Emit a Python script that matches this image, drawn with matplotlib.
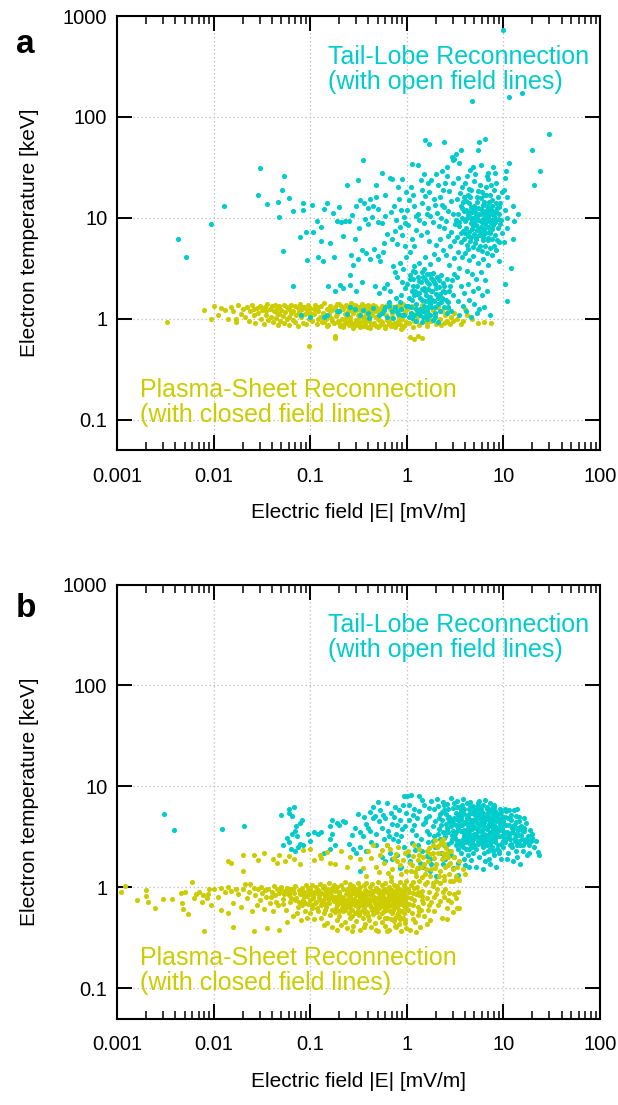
import matplotlib
matplotlib.use("Agg")
import matplotlib.pyplot as plt
from matplotlib.ticker import FixedLocator, NullLocator, FixedFormatter, LogLocator, NullFormatter

plt.rcParams['font.family'] = ['Liberation Sans', 'DejaVu Sans']

CYAN = '#00cccc'
YELLOW = '#cccc00'

x_ticks = [0.001, 0.01, 0.1, 1, 10, 100]
x_tick_labels = ['0.001', '0.01', '0.1', '1', '10', '100']
y_ticks = [0.1, 1, 10, 100, 1000]
y_tick_labels = ['0.1', '1', '10', '100', '1000']

# ---------------- panel a : tail-lobe (cyan) ----------------
tail_a = [
    (0.0043, 6.2), (0.0052, 4.1), (0.0094, 8.7), (0.0127, 13.2), (0.030, 31), (0.029, 17), (0.036, 13.7),
    (0.046, 14.4), (0.054, 26), (0.051, 19), (0.047, 10.3), (0.052, 4.7), (0.061, 15.8), (0.067, 11.7),
    (0.078, 6.5), (0.085, 13.9), (0.085, 12.0), (0.090, 7.2), (0.093, 3.8), (0.067, 2.1),
    (0.108, 7.3), (0.129, 5.9), (0.12, 4.1), (0.135, 3.7), (0.16, 5.6), (0.176, 4.1), (0.153, 2.1),
    (0.18, 1.87), (0.203, 2.15), (0.22, 2.0), (0.26, 2.15), (0.26, 2.7), (0.265, 4.3), (0.117, 9.4),
    (0.128, 8.1), (0.148, 14), (0.173, 11.1), (0.19, 9.3), (0.21, 9.0), (0.23, 9.4), (0.25, 9.2),
    (0.24, 21), (0.31, 23.5), (0.105, 13.5), (0.14, 12.3), (0.2, 12.8), (0.27, 10.6), (0.3, 13),
    (0.33, 15), (0.29, 6.2), (0.32, 7.9), (0.22, 6.6), (0.28, 3.4), (0.31, 3.9), (0.34, 4.8), (0.3, 1.9),
    (0.34, 2.3), (0.14, 1.05), (0.19, 1.2), (0.24, 1.12), (0.29, 1.25), (0.33, 1.08), (0.08, 1.1),
    (0.1, 1.05),
    (0.355, 37.5), (0.475, 21), (0.67, 25), (0.7, 24), (0.36, 14), (0.4, 12.5), (0.42, 15.5), (0.45, 13),
    (0.48, 16), (0.5, 12.2), (0.37, 9.8), (0.4, 8.6), (0.44, 10.3), (0.5, 9.1), (0.55, 8.8), (0.6, 10.4),
    (0.38, 4.5), (0.42, 3.9), (0.46, 4.9), (0.5, 4.2), (0.53, 3.7), (0.57, 4.6), (0.47, 2.1), (0.52, 1.8),
    (0.58, 2.0), (0.62, 2.2), (0.67, 1.9), (0.75, 2.9), (0.72, 3.3), (0.8, 2.6), (0.85, 3.6), (0.9, 2.3),
    (0.95, 2.0), (0.88, 1.7), (0.78, 1.6), (0.65, 1.45), (0.7, 6.2), (0.75, 7.4), (0.8, 5.5), (0.85, 8.1),
    (0.9, 6.8), (0.95, 5.2), (0.62, 6.9), (0.58, 5.6), (0.68, 11.5), (0.73, 13.2), (0.78, 9.6), (0.83, 15.5),
    (0.88, 12), (0.93, 10.1), (0.97, 18), (0.9, 24.5), (0.82, 20), (0.6, 17), (0.55, 28), (0.95, 8.8),
    (0.99, 4.1), (0.92, 3.1), (0.4, 1.15), (0.45, 1.28), (0.52, 1.1), (0.58, 1.22), (0.63, 1.05),
    (0.7, 1.18), (0.76, 1.3), (0.82, 1.12), (0.88, 1.25), (0.94, 1.08), (0.98, 1.35), (0.86, 1.45),
    (0.72, 1.02), (0.66, 1.35), (0.15, 1.08), (0.2, 1.18), (0.26, 1.3), (0.35, 1.22), (0.41, 1.02),
    (0.55, 1.15), (0.6, 1.32), (0.8, 1.2), (0.9, 1.1),
    (1.56, 59), (1.69, 54), (2.45, 56), (1.13, 34), (1.31, 33), (2.3, 29), (2.6, 32), (1.5, 27), (1.8, 23.5),
    (1.4, 23.5), (2.2, 16), (2.35, 19), (2.5, 22), (2.6, 26), (2.1, 21), (2.95, 40), (3.1, 38), (3.2, 43),
    (3.0, 37), (1.0, 12), (1.05, 15), (1.1, 20), (1.15, 17), (1.2, 13), (1.3, 11), (1.45, 14), (1.55, 16.5),
    (1.65, 12.5), (1.7, 18), (1.35, 9.5), (1.25, 7.5), (1.12, 6.2), (1.02, 8.4), (1.08, 4.6), (1.2, 5.3),
    (1.4, 6.7), (1.5, 8.8), (1.6, 7.2), (1.75, 10.5), (1.85, 9.1), (1.95, 13.5), (2.05, 11.2), (2.15, 8.3),
    (2.25, 10), (2.4, 12.8), (2.55, 9.4), (2.7, 11.6), (2.85, 14.6), (3.0, 10.8), (3.15, 8.7), (2.9, 7.3),
    (2.65, 6.6), (2.45, 7.9), (2.2, 6.1), (2.0, 5.4), (1.9, 4.4), (1.7, 5.9), (1.55, 4.1), (1.35, 3.6),
    (1.18, 3.3), (1.75, 3.5), (2.1, 3.9), (2.35, 4.8), (2.55, 4.3), (2.8, 5.2), (3.05, 5.9), (3.1, 4.0),
    (2.75, 3.4), (1.6, 11), (1.9, 15.5), (2.3, 13.5), (2.75, 18.5), (3.0, 22), (1.25, 10.5), (1.45, 19),
    (1.65, 22), (2.0, 27),
    (1.0, 2.2), (1.05, 1.6), (1.08, 2.7), (1.1, 1.3), (1.12, 1.9), (1.15, 2.5), (1.18, 1.1), (1.2, 1.7),
    (1.22, 2.9), (1.25, 1.4), (1.28, 2.1), (1.3, 1.15), (1.32, 2.6), (1.35, 1.8), (1.38, 1.25), (1.4, 2.3),
    (1.42, 1.55), (1.45, 2.9), (1.48, 1.05), (1.5, 2.0), (1.52, 1.35), (1.55, 2.45), (1.58, 1.7), (1.6, 1.2),
    (1.62, 2.75), (1.65, 1.95), (1.68, 1.45), (1.7, 2.2), (1.72, 1.1), (1.75, 1.65), (1.78, 2.55), (1.8, 1.3),
    (1.83, 1.9), (1.86, 2.85), (1.9, 1.5), (1.93, 2.3), (1.96, 1.15), (2.0, 1.75), (2.05, 2.6), (2.1, 1.4),
    (2.15, 2.05), (2.2, 1.2), (2.25, 2.7), (2.3, 1.6), (2.38, 2.25), (2.45, 1.3), (2.5, 1.85), (2.6, 2.5),
    (2.7, 1.45), (2.8, 2.1), (2.9, 1.2), (3.0, 1.7), (3.1, 2.8), (1.14, 1.02), (1.26, 0.95), (1.44, 0.92),
    (1.62, 1.0), (1.85, 0.97), (2.12, 0.93), (1.05, 1.05), (1.36, 1.6), (1.56, 1.9), (1.74, 1.4), (1.98, 2.2),
    (2.35, 1.9), (2.65, 1.3), (1.15, 3.0), (1.5, 3.1),
    (1.03, 1.35), (1.07, 2.45), (1.13, 1.55), (1.17, 2.1), (1.24, 1.25), (1.29, 1.75), (1.33, 2.35),
    (1.37, 1.1), (1.43, 1.95), (1.47, 2.6), (1.53, 1.5), (1.57, 1.1), (1.63, 2.3), (1.67, 1.3), (1.73, 2.8),
    (1.77, 1.9), (1.82, 1.55), (1.88, 2.4), (1.94, 1.3), (2.02, 2.0), (2.08, 1.6), (2.18, 2.4), (2.28, 1.45),
    (2.4, 2.1), (2.55, 1.55), (2.75, 1.9), (2.95, 2.4), (1.1, 1.15), (1.21, 1.9), (1.46, 1.2), (1.69, 1.6),
    (1.97, 1.05), (2.22, 1.75), (2.6, 1.15),
    (5.6, 57), (6.4, 61), (5.4, 47), (3.67, 47), (4.5, 30), (4.8, 32), (7.8, 32), (6.9, 28), (3.5, 35),
    (4.2, 26), (3.4, 25), (3.7, 20), (4.0, 22), (4.3, 17), (4.6, 19), (5.0, 23), (5.3, 16), (5.7, 21),
    (6.0, 18), (6.3, 14.5), (6.6, 20), (7.0, 24), (7.3, 17), (7.6, 15), (8.0, 19), (8.4, 22), (8.8, 16),
    (9.2, 14), (9.6, 18), (3.3, 15.5), (3.6, 13), (3.9, 16), (4.1, 12), (4.4, 14), (4.7, 11.5), (5.0, 13),
    (5.2, 10.5), (5.5, 12.5), (5.8, 11), (6.1, 13.5), (6.4, 10.2), (6.8, 12), (7.2, 11), (7.6, 13),
    (8.0, 10.5), (8.5, 12.5), (9.0, 11), (9.5, 9.5), (3.4, 11), (3.7, 10), (4.0, 9.2), (4.3, 10.8),
    (4.6, 8.8), (4.9, 10), (5.2, 8.5), (5.5, 9.6), (5.8, 8.2), (6.1, 9.8), (6.4, 8.6), (6.7, 9.3), (7.0, 8.1),
    (7.4, 9.6), (7.8, 8.4), (8.2, 9.1), (8.7, 7.9), (9.3, 8.7), (3.5, 8.3), (3.8, 7.4), (4.1, 8.0),
    (4.4, 7.2), (4.7, 7.7), (5.0, 6.9), (5.3, 7.5), (5.6, 6.7), (5.9, 7.3), (6.2, 6.5), (6.5, 7.1),
    (6.9, 6.3), (7.3, 7.0), (7.7, 6.1), (8.1, 6.8), (8.6, 6.0), (9.1, 5.7), (3.3, 6.5), (3.6, 5.8),
    (3.9, 6.2), (4.2, 5.4), (4.5, 5.9), (4.8, 5.1), (5.1, 5.6), (5.4, 4.9), (5.7, 5.3), (6.0, 4.7),
    (6.4, 5.2), (6.8, 4.5), (7.2, 5.0), (7.7, 4.3), (8.3, 4.8), (8.9, 3.7), (3.4, 4.6), (3.7, 4.1),
    (4.0, 4.5), (4.4, 3.8), (4.9, 4.2), (5.5, 3.6), (6.2, 3.9), (7.0, 3.4), (3.5, 3.2), (4.2, 3.0),
    (4.7, 2.8), (5.2, 2.5), (5.8, 2.9), (6.5, 2.4), (3.3, 2.6), (3.6, 2.1), (3.9, 1.8), (4.3, 2.2),
    (4.8, 1.9), (5.4, 2.0), (6.0, 1.7), (6.8, 1.9), (3.4, 1.5), (3.8, 1.35), (4.4, 1.55), (5.0, 1.4),
    (5.6, 1.25), (3.5, 1.1), (4.1, 1.2), (4.6, 1.05), (5.3, 1.15), (6.3, 1.3), (7.2, 1.1),
    (4.5, 10.3), (5.0, 9.4), (5.5, 10.9), (6.0, 9.0), (6.5, 11.2), (4.8, 8.3), (5.3, 9.9), (5.8, 9.3),
    (6.3, 7.8), (4.2, 9.9), (3.9, 11.8), (7.0, 10.2), (7.5, 8.8), (4.6, 12.8), (5.3, 14.3), (5.9, 15.8),
    (6.6, 16.8), (3.8, 14.2), (4.4, 19.5), (5.1, 27), (5.9, 33), (6.7, 26), (7.4, 21), (8.1, 28),
    (3.45, 9.0), (3.75, 12.4), (4.05, 7.0), (4.35, 11.6), (4.65, 6.4), (4.95, 12.0), (5.25, 6.2),
    (5.55, 8.0), (5.85, 12.2), (6.15, 7.0), (6.45, 9.0), (6.75, 13.0), (7.05, 7.2), (7.35, 12.2),
    (7.65, 7.8), (7.95, 9.9), (8.35, 11.4), (8.75, 9.8), (9.1, 12.8), (3.6, 7.0), (4.25, 6.6), (4.75, 9.6),
    (5.15, 11.2), (5.65, 7.8), (6.2, 11.6), (6.9, 10.8), (7.8, 11.6), (4.5, 16), (5.4, 18.5), (6.3, 17),
    (7.1, 14.5), (8.3, 14), (3.55, 17.5), (4.1, 14.8), (3.25, 9.6), (9.6, 7.1), (8.0, 5.2), (7.0, 6.0),
    (6.1, 6.0), (5.2, 6.3), (4.3, 4.9),
    (10.0, 730), (11.5, 158), (15.6, 171), (4.7, 144), (29.5, 68), (19.7, 47), (24, 29), (20.7, 21),
    (11.5, 35), (10.6, 29), (10.4, 25), (10.1, 19), (11, 16), (12.5, 13), (14, 11), (13, 9.2), (11, 10),
    (12.5, 6.1), (10.2, 5.7), (10.8, 8), (10.3, 12), (12, 3.2), (10.4, 2.2), (11, 1.5),
]

# ---------------- panel a : plasma sheet (yellow) ----------------
sheet_a = [
    (0.0033, 0.92), (0.0079, 1.23), (0.0095, 1.0), (0.010, 1.35), (0.011, 1.1), (0.012, 1.28), (0.013, 1.22),
    (0.014, 0.99), (0.015, 1.3), (0.016, 1.18), (0.017, 1.0), (0.017, 0.93), (0.018, 1.36), (0.019, 1.12),
    (0.02, 1.25), (0.021, 1.05), (0.022, 1.32), (0.023, 0.95), (0.024, 1.2), (0.025, 1.38), (0.026, 1.08),
    (0.027, 0.9), (0.028, 1.27), (0.029, 1.15), (0.03, 1.35), (0.031, 1.0), (0.032, 1.22), (0.033, 0.88),
    (0.034, 1.3), (0.035, 1.1), (0.036, 1.4), (0.037, 0.97), (0.038, 1.25), (0.039, 1.05), (0.04, 1.33),
    (0.041, 0.92), (0.042, 1.18), (0.043, 1.37), (0.044, 1.02), (0.045, 1.28), (0.046, 0.87), (0.047, 1.12),
    (0.048, 1.35), (0.049, 0.96), (0.05, 1.23), (0.052, 1.07), (0.053, 1.38), (0.054, 0.9), (0.055, 1.16),
    (0.057, 1.3), (0.058, 1.0), (0.06, 1.25), (0.061, 0.86), (0.063, 1.13), (0.064, 1.36), (0.066, 0.98),
    (0.067, 1.2), (0.069, 1.33), (0.07, 0.93), (0.072, 1.09), (0.074, 1.27), (0.075, 0.85), (0.077, 1.17),
    (0.079, 1.39), (0.081, 1.03), (0.083, 1.24), (0.085, 0.91), (0.087, 1.31), (0.089, 1.11), (0.091, 0.88),
    (0.093, 1.21), (0.095, 1.36), (0.097, 1.0), (0.099, 1.15),
    (0.10, 1.28), (0.105, 0.95), (0.11, 1.12), (0.112, 1.38), (0.118, 0.88), (0.12, 1.2), (0.125, 1.05),
    (0.13, 1.33), (0.133, 0.92), (0.137, 1.15), (0.14, 1.42), (0.145, 0.99), (0.15, 1.26), (0.153, 0.86),
    (0.158, 1.1), (0.16, 1.35), (0.165, 1.02), (0.17, 1.22), (0.175, 0.9), (0.18, 1.3), (0.185, 1.07),
    (0.19, 1.4), (0.195, 0.95), (0.2, 1.18), (0.205, 0.85), (0.21, 1.34), (0.215, 1.0), (0.22, 1.25),
    (0.225, 0.88), (0.23, 1.12), (0.235, 1.38), (0.24, 0.93), (0.245, 1.2), (0.25, 0.86), (0.255, 1.3),
    (0.26, 1.05), (0.265, 1.43), (0.27, 0.9), (0.275, 1.15), (0.28, 1.27), (0.285, 0.84), (0.29, 1.36),
    (0.295, 0.97), (0.3, 1.22), (0.31, 0.87), (0.315, 1.1), (0.32, 1.32), (0.33, 0.92), (0.335, 1.18),
    (0.34, 1.4), (0.35, 0.85), (0.355, 1.03), (0.36, 1.28), (0.37, 0.89), (0.375, 1.14), (0.38, 1.35),
    (0.39, 0.83), (0.4, 1.24), (0.41, 0.96), (0.42, 1.31), (0.43, 0.86), (0.44, 1.08), (0.45, 1.37),
    (0.46, 0.9), (0.47, 1.2), (0.48, 0.84), (0.49, 1.29), (0.5, 1.0), (0.52, 1.16), (0.53, 0.87),
    (0.55, 1.33), (0.56, 0.93), (0.58, 1.22), (0.6, 0.85), (0.61, 1.1), (0.63, 1.38), (0.65, 0.89),
    (0.67, 1.26), (0.69, 0.84), (0.7, 1.05), (0.72, 1.3), (0.74, 0.91), (0.76, 1.18), (0.78, 0.86),
    (0.8, 1.35), (0.82, 0.95), (0.84, 1.12), (0.86, 0.88), (0.88, 1.27), (0.9, 1.0), (0.92, 1.4),
    (0.94, 0.85), (0.96, 1.2), (0.98, 0.92), (0.15, 0.84), (0.22, 0.82), (0.28, 0.8), (0.33, 0.82),
    (0.42, 0.81), (0.5, 0.83), (0.6, 0.8), (0.75, 0.82), (0.9, 0.8), (0.2, 0.9), (0.3, 0.9), (0.45, 0.88),
    (0.55, 0.9), (0.65, 0.92), (0.8, 0.9), (0.12, 1.0), (0.17, 0.96), (0.26, 0.98), (0.37, 1.0),
    (0.52, 0.97), (0.68, 1.02), (0.12, 1.3), (0.16, 1.18), (0.24, 1.33), (0.31, 1.26), (0.4, 1.15),
    (0.47, 1.33), (0.58, 1.28), (0.71, 1.15), (0.85, 1.3),
    (0.06, 1.05), (0.08, 1.3), (0.11, 1.25), (0.14, 0.92), (0.19, 1.12), (0.23, 1.0), (0.27, 1.2),
    (0.32, 1.05), (0.36, 0.95), (0.43, 1.2), (0.48, 1.05), (0.54, 1.25), (0.62, 0.97), (0.73, 1.25),
    (0.83, 1.05), (0.95, 1.15), (1.25, 1.15), (1.5, 1.2), (1.7, 1.0), (0.035, 1.2), (0.045, 1.15),
    (0.026, 1.25), (0.3, 1.35), (0.4, 1.36), (0.66, 1.4), (0.2, 1.4), (0.1, 1.1), (0.7, 0.88), (0.24, 1.07),
    (0.38, 1.1),
    (1.0, 1.25), (1.05, 0.9), (1.1, 1.15), (1.12, 1.35), (1.18, 0.95), (1.22, 1.28), (1.28, 1.05),
    (1.33, 0.87), (1.4, 1.2), (1.45, 1.38), (1.5, 0.98), (1.55, 1.3), (1.62, 0.9), (1.68, 1.12),
    (1.75, 1.36), (1.8, 0.95), (1.88, 1.22), (1.95, 1.08), (2.0, 0.88), (2.1, 1.3), (2.2, 1.0),
    (2.3, 1.18), (2.4, 0.9), (2.5, 1.1), (2.6, 0.95), (2.7, 1.25), (2.8, 0.88), (2.9, 1.05), (3.0, 0.96),
    (3.1, 1.15), (3.3, 1.0), (1.07, 0.66), (1.2, 0.63), (1.3, 0.68), (1.43, 0.64), (1.15, 0.82),
    (1.6, 0.85), (2.25, 0.86), (2.55, 0.92), (3.8, 0.95), (4.2, 1.1), (4.7, 1.0), (5.5, 0.9), (6.3, 0.93),
    (7.5, 0.9), (4.0, 1.25), (3.6, 0.88), (0.098, 0.54), (0.18, 0.68), (0.18, 0.64), (0.88, 0.79),
]

# ---------------- panel b : tail-lobe (cyan) ----------------
tail_b = [
    (0.0031, 5.3), (0.0039, 3.7), (0.0122, 3.8), (0.0206, 4.0),
    (0.05, 5.2), (0.06, 6.0), (0.06, 5.4), (0.072, 4.0), (0.078, 4.3), (0.083, 4.6), (0.058, 3.1),
    (0.065, 3.4), (0.07, 3.6), (0.073, 3.2), (0.052, 2.6), (0.06, 2.8), (0.078, 2.7), (0.084, 2.6),
    (0.094, 3.4), (0.11, 3.5), (0.12, 3.4), (0.13, 3.5), (0.16, 4.0), (0.17, 4.6), (0.19, 4.3),
    (0.16, 3.0), (0.17, 3.4), (0.16, 2.4), (0.18, 2.6), (0.068, 6.3), (0.065, 5.1), (0.064, 2.4),
    (0.07, 2.3), (0.075, 2.5), (0.1, 2.9), (0.14, 2.2),
    (0.23, 4.4), (0.31, 5.3), (0.36, 5.0), (0.42, 5.6), (0.47, 5.1), (0.29, 3.9), (0.33, 3.5), (0.38, 4.2),
    (0.35, 3.2), (0.42, 3.6), (0.48, 3.4), (0.25, 2.7), (0.28, 2.4), (0.3, 2.2), (0.33, 2.5), (0.38, 2.3),
    (0.43, 2.8), (0.48, 2.6), (0.45, 6.3), (0.53, 5.8), (0.22, 4.5), (0.2, 4.1), (0.52, 4.5), (0.56, 3.9),
    (0.6, 4.8), (0.64, 3.6), (0.58, 3.0), (0.62, 2.6), (0.67, 2.2), (0.7, 4.2), (0.74, 5.0), (0.78, 3.4),
    (0.82, 2.9), (0.86, 4.6), (0.9, 3.8), (0.94, 2.5), (0.97, 5.4), (0.55, 2.0), (0.6, 1.8), (0.7, 1.9),
    (0.8, 2.1), (0.87, 1.6), (0.68, 5.5), (0.76, 6.2), (0.84, 5.8), (0.92, 6.6), (0.62, 6.8), (0.5, 7.0),
    (0.72, 3.0), (0.88, 3.2), (0.95, 4.0), (0.66, 3.2), (0.8, 4.1), (0.57, 5.2), (0.85, 1.54), (0.33, 1.44),
    (0.94, 8.1), (0.4, 3.9), (0.45, 4.8), (0.27, 3.3),
    (1.0, 8.0), (1.1, 8.2), (1.33, 8.1), (1.05, 6.5), (1.15, 5.2), (1.2, 4.1), (1.25, 3.3), (1.3, 2.6),
    (1.02, 2.1), (1.08, 1.8), (1.12, 3.7), (1.18, 6.0), (1.28, 4.8), (1.35, 5.7), (1.4, 3.0), (1.45, 2.3),
    (1.5, 6.6), (1.55, 4.4), (1.6, 3.6), (1.65, 2.8), (1.7, 5.1), (1.75, 1.9), (1.8, 7.1), (1.85, 4.0),
    (1.9, 3.2), (1.95, 2.5), (1.38, 1.75), (1.48, 1.6), (1.62, 2.05), (1.78, 1.7), (1.92, 5.9), (1.42, 7.3),
    (1.68, 6.1), (1.22, 2.35), (1.58, 4.9), (1.88, 2.9), (1.75, 1.45), (2.0, 1.3), (1.3, 1.55), (1.05, 4.6),
    (1.46, 4.2), (1.12, 2.75), (1.7, 3.4), (1.98, 4.5),
    (2.05, 2.5), (2.05, 7.5), (2.1, 6.4), (2.15, 3.8), (2.2, 5.3), (2.25, 2.2), (2.3, 4.6), (2.35, 7.0),
    (2.4, 3.1), (2.45, 5.8), (2.5, 1.9), (2.55, 4.2), (2.6, 6.7), (2.65, 2.7), (2.7, 3.5), (2.75, 5.0),
    (2.8, 2.3), (2.85, 7.7), (2.9, 4.0), (2.95, 3.0), (3.0, 6.1), (3.05, 2.0), (3.1, 4.8), (3.15, 3.4),
    (3.2, 5.5), (3.25, 2.6), (3.3, 7.2), (3.35, 3.9), (3.4, 1.75), (3.45, 4.5), (3.5, 2.9), (3.55, 6.3),
    (3.6, 3.6), (3.65, 2.2), (3.7, 5.2), (3.75, 4.1), (3.8, 7.5), (3.85, 2.5), (3.9, 3.2), (3.95, 5.9),
    (4.0, 1.65), (4.05, 4.4), (4.1, 2.8), (4.15, 6.8), (4.2, 3.7), (4.25, 2.1), (4.3, 5.0), (4.35, 3.3),
    (4.4, 6.0), (4.45, 2.4), (4.5, 4.2), (4.55, 7.0), (4.6, 3.0), (4.65, 1.85), (4.7, 5.4), (4.75, 3.8),
    (4.8, 2.6), (4.85, 6.4), (4.9, 4.6), (4.95, 3.4), (2.2, 3.0), (2.4, 2.0), (2.6, 3.9), (2.8, 4.4),
    (3.0, 3.6), (3.2, 4.1), (3.4, 2.4), (3.6, 4.7), (3.8, 3.5), (4.0, 2.9), (4.2, 4.9), (4.4, 3.6),
    (4.6, 5.6), (4.8, 4.0), (2.3, 5.6), (2.7, 6.0), (3.1, 6.9), (3.5, 5.3), (3.9, 4.3), (4.3, 3.9),
    (4.7, 2.9), (2.5, 3.2), (2.9, 2.1), (3.3, 2.9), (3.7, 2.7), (4.1, 3.5), (4.5, 2.7), (4.9, 2.2),
    (2.15, 4.9), (2.55, 5.3), (2.95, 4.7), (3.35, 5.0), (3.75, 6.6), (4.15, 5.2), (4.55, 4.6), (4.95, 5.8),
    (3.0, 1.55), (3.9, 1.9), (2.35, 1.7), (4.4, 1.6), (3.4, 1.32),
    (5.0, 3.1), (5.1, 5.2), (5.2, 2.4), (5.3, 4.3), (5.4, 6.9), (5.5, 3.6), (5.6, 2.0), (5.7, 4.8),
    (5.8, 3.2), (5.9, 6.0), (6.0, 2.7), (6.1, 4.1), (6.2, 5.5), (6.3, 3.4), (6.4, 1.8), (6.5, 4.6),
    (6.6, 2.9), (6.7, 6.3), (6.8, 3.8), (6.9, 2.3), (7.0, 5.1), (7.1, 3.0), (7.2, 4.4), (7.3, 1.7),
    (7.4, 5.8), (7.5, 3.5), (7.6, 2.5), (7.7, 4.9), (7.8, 3.1), (7.9, 6.6), (8.0, 2.1), (8.2, 4.0),
    (8.4, 3.3), (8.6, 5.3), (8.8, 2.6), (9.0, 4.5), (9.2, 3.7), (9.4, 1.9), (9.6, 5.0), (9.8, 2.9),
    (5.15, 3.9), (5.45, 2.9), (5.75, 5.6), (6.05, 3.7), (6.35, 2.2), (6.65, 5.0), (6.95, 4.0), (7.25, 2.7),
    (7.55, 6.1), (7.85, 3.7), (8.1, 5.7), (8.5, 2.4), (8.9, 3.9), (9.3, 6.0), (9.7, 4.2), (5.25, 1.6),
    (6.2, 1.5), (7.1, 1.9), (8.3, 1.6), (9.1, 2.2), (5.6, 7.2), (6.4, 7.4), (7.2, 6.9), (5.05, 4.6),
    (5.85, 4.4), (6.55, 3.3), (7.35, 3.5), (8.15, 3.0), (8.75, 4.8), (9.5, 3.2), (5.35, 5.9), (6.15, 6.6),
    (7.65, 4.3), (8.45, 4.5), (9.9, 3.6),
    (2.12, 3.4), (2.28, 4.1), (2.42, 2.6), (2.58, 3.6), (2.72, 4.6), (2.88, 2.8), (3.02, 4.3), (3.18, 3.1),
    (3.32, 3.6), (3.48, 4.0), (3.62, 2.6), (3.78, 3.0), (3.92, 3.7), (4.08, 2.4), (4.22, 4.2), (4.38, 2.9),
    (4.52, 3.3), (4.68, 4.4), (4.82, 3.1), (4.98, 2.6), (5.12, 3.4), (5.28, 4.8), (5.42, 2.7), (5.58, 4.0),
    (5.72, 3.0), (5.88, 3.6), (6.02, 5.0), (6.18, 2.5), (6.32, 4.4), (6.48, 3.1), (6.62, 3.9), (6.78, 2.6),
    (6.92, 4.7), (7.08, 3.3), (7.22, 2.4), (7.38, 4.0), (7.52, 2.9), (7.68, 3.6), (7.82, 5.3), (7.98, 3.4),
    (8.25, 2.8), (8.55, 3.8), (8.85, 3.2), (9.15, 4.2), (9.45, 2.7), (9.75, 3.9), (10.1, 3.0), (10.7, 4.1),
    (11.3, 3.3), (11.9, 2.7), (12.5, 4.0), (13.1, 3.1), (13.7, 2.6), (14.3, 3.9), (15.3, 3.3), (16.5, 3.9),
    (17.8, 2.9), (2.35, 3.5), (2.65, 4.8), (2.95, 3.3), (3.25, 4.7), (3.55, 2.7), (3.85, 5.5), (4.15, 3.0),
    (4.45, 5.3), (4.75, 2.5), (5.05, 5.5), (5.35, 3.2), (5.65, 5.2), (5.95, 2.9), (6.25, 4.8), (6.55, 2.7),
    (6.85, 5.5), (7.15, 4.2), (7.45, 3.1), (7.75, 2.3), (8.05, 4.6), (8.35, 5.1), (8.65, 3.5), (8.95, 2.3),
    (9.25, 5.4), (9.55, 4.6), (9.85, 2.5), (10.4, 5.0), (11.1, 4.8), (12.2, 3.9), (13.4, 5.1), (14.6, 2.9),
    (3.65, 5.8), (4.55, 6.2), (5.45, 6.4), (6.75, 5.9), (8.0, 6.2), (9.4, 5.6), (2.45, 6.5), (3.3, 6.2),
    (10, 4.5), (10.3, 2.8), (10.6, 5.7), (10.9, 3.5), (11.2, 2.2), (11.5, 4.1), (11.8, 3.0), (12.1, 5.2),
    (12.4, 2.5), (12.7, 3.8), (13.0, 5.8), (13.3, 2.9), (13.6, 4.4), (13.9, 2.0), (14.2, 3.3), (14.5, 5.0),
    (14.8, 2.6), (15.1, 4.0), (15.5, 3.0), (15.9, 2.3), (16.3, 3.6), (16.7, 2.8), (17.1, 4.3), (17.5, 2.1),
    (18.0, 3.2), (18.5, 2.6), (19.0, 3.7), (19.8, 3.4), (20.5, 2.5), (21.5, 2.9), (22.8, 2.24), (23.5, 2.1),
    (10.2, 3.4), (10.8, 1.9), (11.4, 5.8), (12.0, 4.6), (12.6, 1.8), (13.2, 3.4), (13.8, 5.9), (14.4, 4.5),
    (15.0, 1.7), (15.6, 3.7), (16.2, 4.9), (17.0, 3.0), (18.2, 2.2), (19.3, 2.9), (20.0, 3.1), (11.0, 3.1),
    (12.3, 3.5), (13.5, 2.3), (16.0, 2.6), (11.7, 2.6), (10.5, 6.0), (12.9, 4.1), (14.0, 3.7),
]

# ---------------- panel b : plasma sheet (yellow) ----------------
sheet_b = [
    (0.0012, 1.02), (0.0011, 0.9), (0.0016, 0.74), (0.002, 0.93), (0.002, 0.82), (0.0021, 0.72),
    (0.0025, 0.62), (0.003, 0.76), (0.0037, 0.76), (0.0047, 0.7), (0.0048, 0.61), (0.0046, 0.88),
    (0.005, 0.89), (0.006, 1.13), (0.0054, 0.54), (0.0062, 0.79), (0.007, 0.9), (0.0075, 0.72),
    (0.0078, 0.83), (0.0085, 0.78), (0.0079, 0.37), (0.009, 0.95), (0.0095, 0.66), (0.0065, 0.86),
    (0.0088, 0.86),
    (0.010, 0.97), (0.011, 0.8), (0.012, 0.6), (0.013, 0.9), (0.014, 0.55), (0.0157, 0.40), (0.012, 0.98),
    (0.014, 1.0), (0.015, 0.92), (0.016, 0.7), (0.017, 0.97), (0.018, 0.85), (0.019, 0.64), (0.02, 0.95),
    (0.021, 1.08), (0.022, 0.78), (0.023, 0.9), (0.024, 1.08), (0.025, 0.58), (0.026, 0.99), (0.026, 0.37),
    (0.027, 0.84), (0.028, 0.67), (0.029, 0.96), (0.03, 0.75), (0.031, 1.0), (0.032, 0.88), (0.033, 0.61),
    (0.034, 0.93), (0.035, 0.8), (0.036, 0.39), (0.037, 0.97), (0.038, 0.7), (0.04, 0.9), (0.041, 0.58),
    (0.042, 1.02), (0.043, 0.83), (0.045, 0.95), (0.046, 0.66), (0.048, 0.38), (0.048, 0.88), (0.05, 1.0),
    (0.052, 0.76), (0.054, 0.92), (0.056, 0.6), (0.058, 0.98), (0.06, 0.84), (0.062, 0.71), (0.064, 0.95),
    (0.066, 0.52), (0.068, 0.88), (0.07, 1.03), (0.072, 0.79), (0.074, 0.64), (0.076, 0.93), (0.078, 0.86),
    (0.08, 0.47), (0.082, 0.98), (0.084, 0.74), (0.086, 0.9), (0.088, 0.58), (0.09, 1.05), (0.092, 0.82),
    (0.094, 0.95), (0.096, 0.68), (0.098, 0.88), (0.044, 0.72), (0.053, 0.85), (0.063, 0.78), (0.073, 0.55),
    (0.083, 0.66), (0.093, 0.5), (0.057, 0.45), (0.067, 0.96), (0.077, 0.72), (0.087, 0.81), (0.097, 0.98),
    (0.039, 0.8), (0.047, 0.93), (0.059, 0.9),
    (0.1, 0.95), (0.105, 1.05), (0.11, 0.9), (0.115, 1.0), (0.12, 0.93), (0.125, 1.08), (0.13, 0.88),
    (0.135, 0.98), (0.14, 1.03), (0.145, 0.91), (0.15, 0.97), (0.155, 1.1), (0.16, 0.87), (0.17, 0.99),
    (0.175, 1.06), (0.18, 0.92), (0.19, 1.0), (0.2, 0.9), (0.21, 1.04), (0.22, 0.95), (0.23, 1.12),
    (0.24, 0.89), (0.25, 0.99), (0.26, 1.07), (0.27, 0.93), (0.28, 1.02), (0.29, 0.88), (0.3, 0.97),
    (0.31, 1.09), (0.32, 0.91), (0.33, 1.0), (0.34, 0.86), (0.36, 1.05), (0.37, 0.94), (0.38, 1.11),
    (0.4, 0.9), (0.42, 1.0), (0.44, 1.08), (0.46, 0.92), (0.48, 0.98), (0.5, 1.13), (0.52, 0.88),
    (0.55, 1.04), (0.58, 0.95), (0.6, 1.1), (0.62, 0.9), (0.65, 1.0), (0.68, 1.14), (0.7, 0.93),
    (0.73, 1.06), (0.76, 0.88), (0.8, 1.02), (0.83, 0.95), (0.86, 1.12), (0.9, 0.9), (0.93, 1.05),
    (0.96, 0.97), (0.99, 1.15),
    (0.1, 0.75), (0.104, 0.66), (0.108, 0.82), (0.113, 0.7), (0.118, 0.62), (0.122, 0.78), (0.127, 0.85),
    (0.132, 0.68), (0.137, 0.74), (0.142, 0.81), (0.147, 0.64), (0.152, 0.77), (0.158, 0.7), (0.164, 0.84),
    (0.17, 0.6), (0.176, 0.73), (0.182, 0.8), (0.188, 0.66), (0.195, 0.76), (0.2, 0.83), (0.207, 0.69),
    (0.214, 0.62), (0.221, 0.79), (0.228, 0.72), (0.235, 0.85), (0.243, 0.65), (0.25, 0.75), (0.258, 0.81),
    (0.266, 0.68), (0.274, 0.6), (0.283, 0.77), (0.292, 0.71), (0.3, 0.84), (0.31, 0.63), (0.32, 0.74),
    (0.33, 0.8), (0.34, 0.67), (0.35, 0.78), (0.36, 0.61), (0.37, 0.72), (0.38, 0.83), (0.39, 0.69),
    (0.41, 0.76), (0.43, 0.64), (0.45, 0.81), (0.47, 0.7), (0.49, 0.78), (0.51, 0.62), (0.53, 0.74),
    (0.55, 0.84), (0.57, 0.67), (0.59, 0.77), (0.61, 0.6), (0.63, 0.72), (0.66, 0.82), (0.69, 0.66),
    (0.72, 0.76), (0.75, 0.63), (0.78, 0.8), (0.81, 0.7), (0.84, 0.6), (0.87, 0.75), (0.9, 0.82),
    (0.93, 0.65), (0.96, 0.73), (0.99, 0.62), (0.115, 0.72), (0.16, 0.78), (0.21, 0.74), (0.26, 0.79),
    (0.31, 0.73), (0.36, 0.8), (0.42, 0.73), (0.48, 0.67), (0.54, 0.79), (0.6, 0.7), (0.67, 0.75),
    (0.74, 0.69), (0.82, 0.78), (0.92, 0.77), (0.14, 0.7), (0.19, 0.71), (0.24, 0.7), (0.29, 0.66),
    (0.34, 0.73), (0.4, 0.68), (0.46, 0.75), (0.52, 0.71), (0.58, 0.64), (0.64, 0.79),
    (0.12, 0.86), (0.17, 0.8), (0.22, 0.67), (0.27, 0.72), (0.32, 0.86), (0.37, 0.66), (0.42, 0.85),
    (0.47, 0.61), (0.52, 0.8), (0.57, 0.9), (0.62, 0.68), (0.68, 0.88), (0.72, 0.6), (0.77, 0.72),
    (0.85, 0.86), (0.95, 0.8), (0.18, 0.95), (0.28, 0.92), (0.38, 0.9), (0.5, 0.9), (0.65, 0.93),
    (0.8, 0.96), (0.13, 0.66), (0.23, 0.6), (0.33, 0.57), (0.44, 0.6), (0.56, 0.55), (0.69, 0.48),
    (0.79, 0.65), (0.9, 0.58),
    (0.052, 0.68), (0.061, 0.88), (0.069, 0.74), (0.079, 0.92), (0.089, 0.7), (0.099, 0.85), (0.106, 0.78),
    (0.117, 0.9), (0.128, 0.73), (0.139, 0.86), (0.151, 0.68), (0.163, 0.92), (0.174, 0.77), (0.186, 0.62),
    (0.198, 0.88), (0.211, 0.8), (0.224, 0.68), (0.238, 0.93), (0.252, 0.64), (0.267, 0.86), (0.282, 0.73),
    (0.298, 0.91), (0.315, 0.68), (0.333, 0.88), (0.352, 0.73), (0.372, 0.56), (0.393, 0.87), (0.415, 0.66),
    (0.438, 0.92), (0.462, 0.78), (0.487, 0.57), (0.513, 0.93), (0.541, 0.68), (0.57, 0.82), (0.6, 0.62),
    (0.632, 0.88), (0.665, 0.58), (0.7, 0.8), (0.737, 0.67), (0.775, 0.9), (0.815, 0.55), (0.857, 0.68),
    (0.9, 0.71), (0.945, 0.88), (0.99, 0.7), (1.04, 0.6), (1.1, 0.78), (1.17, 0.66), (1.24, 0.85),
    (1.33, 0.58), (1.42, 0.75), (0.143, 0.6), (0.2, 0.58), (0.26, 0.62), (0.35, 0.6), (0.5, 0.65),
    (0.65, 0.65), (0.83, 0.52), (0.27, 0.52), (0.4, 0.52), (0.6, 0.5), (0.75, 0.5), (0.95, 0.47),
    (1.15, 0.48), (1.3, 0.53), (0.105, 0.62), (0.155, 0.85), (0.245, 0.77), (0.38, 0.75), (0.56, 0.73),
    (0.72, 0.85), (0.88, 0.93),
    (0.1, 0.55), (0.11, 0.48), (0.12, 0.58), (0.13, 0.5), (0.14, 0.56), (0.15, 0.44), (0.16, 0.53),
    (0.17, 0.4), (0.18, 0.57), (0.19, 0.47), (0.2, 0.52), (0.21, 0.42), (0.22, 0.58), (0.23, 0.45),
    (0.24, 0.39), (0.25, 0.55), (0.26, 0.49), (0.28, 0.41), (0.29, 0.56), (0.3, 0.46), (0.32, 0.53),
    (0.33, 0.38), (0.35, 0.5), (0.37, 0.43), (0.39, 0.57), (0.41, 0.47), (0.43, 0.4), (0.45, 0.54),
    (0.47, 0.44), (0.5, 0.37), (0.52, 0.51), (0.55, 0.45), (0.58, 0.58), (0.6, 0.41), (0.63, 0.5),
    (0.66, 0.38), (0.7, 0.55), (0.73, 0.46), (0.77, 0.4), (0.8, 0.53), (0.84, 0.43), (0.88, 0.37),
    (0.92, 0.5), (0.96, 0.44), (0.99, 0.39), (0.27, 0.37), (0.36, 0.4), (0.48, 0.38), (0.62, 0.37),
    (0.75, 0.41), (0.86, 0.48), (0.94, 0.56), (0.14, 0.42), (0.19, 0.38), (0.31, 0.58),
    (1.0, 0.8), (1.03, 0.95), (1.06, 0.68), (1.1, 1.05), (1.13, 0.56), (1.16, 0.88), (1.2, 0.74),
    (1.23, 0.45), (1.27, 1.0), (1.3, 0.63), (1.34, 0.83), (1.38, 0.4), (1.42, 0.92), (1.46, 0.7),
    (1.5, 0.52), (1.55, 1.08), (1.6, 0.78), (1.65, 0.6), (1.7, 0.9), (1.75, 0.47), (1.8, 0.72),
    (1.86, 1.02), (1.92, 0.58), (2.0, 0.85), (2.1, 0.66), (2.2, 1.1), (2.3, 0.5), (2.4, 0.8), (2.5, 0.95),
    (2.6, 0.62), (2.75, 0.88), (2.9, 0.72), (3.0, 0.57), (3.1, 0.85), (3.25, 0.78), (3.4, 0.9), (3.5, 0.62),
    (1.08, 0.38), (1.25, 0.36), (1.4, 0.6), (1.6, 0.43), (1.9, 0.8), (2.2, 0.73), (2.6, 0.48), (3.3, 0.62),
    (1.15, 1.12), (1.35, 1.15), (1.6, 1.12), (2.0, 1.15), (2.4, 1.18), (2.8, 1.16), (3.2, 1.2), (3.0, 1.15),
    (3.5, 1.18), (1.85, 1.1), (1.05, 0.9), (1.2, 0.98), (1.3, 0.9), (1.45, 0.82), (1.7, 0.66), (2.05, 0.95),
    (2.35, 0.9), (2.7, 0.75),
    (0.015, 1.74), (0.014, 1.8), (0.02, 2.1), (0.026, 2.07), (0.029, 1.86), (0.041, 1.9), (0.048, 2.1),
    (0.055, 1.8), (0.06, 2.05), (0.068, 1.9), (0.078, 1.7), (0.085, 2.32), (0.1, 2.4), (0.126, 2.07),
    (0.16, 1.73), (0.13, 1.95), (0.15, 2.25), (0.18, 1.7), (0.21, 2.3), (0.26, 2.0), (0.033, 2.2),
    (0.045, 1.75), (0.11, 1.85), (0.24, 1.6), (0.02, 1.45),
    (0.33, 1.9), (0.43, 1.93), (0.53, 2.07), (0.64, 1.37), (0.67, 2.4), (0.78, 2.15), (0.92, 1.85),
    (0.35, 1.55), (0.4, 2.3), (0.48, 1.6), (0.58, 1.75), (0.62, 2.6), (0.7, 1.5), (0.74, 1.95), (0.82, 2.5),
    (0.86, 1.65), (0.95, 2.2), (0.38, 1.3), (0.52, 1.4), (0.68, 1.25), (0.88, 1.35), (0.97, 1.45),
    (0.45, 2.6), (0.56, 2.35), (0.8, 1.8),
    (1.07, 1.75), (1.27, 1.55), (1.48, 2.0), (1.73, 2.15), (2.05, 2.5), (2.4, 2.7), (2.6, 2.2), (2.7, 2.0),
    (1.02, 2.3), (1.1, 1.45), (1.15, 2.05), (1.2, 2.6), (1.3, 1.85), (1.35, 2.4), (1.4, 1.6), (1.55, 1.35),
    (1.6, 2.3), (1.65, 1.8), (1.8, 1.5), (1.85, 2.6), (1.9, 1.95), (2.0, 1.7), (2.1, 2.2), (2.2, 1.45),
    (2.25, 2.85), (2.3, 1.9), (2.5, 1.6), (2.55, 2.45), (2.8, 1.75), (2.9, 2.3), (3.0, 1.5), (3.1, 2.0),
    (3.3, 1.6), (3.5, 1.8), (3.8, 1.5), (4.0, 1.35), (1.25, 1.3), (1.45, 1.25), (1.75, 1.3), (2.15, 1.28),
    (2.45, 1.3), (2.75, 1.35), (3.2, 1.3), (1.95, 2.95), (2.35, 3.0),
    (1.12, 1.65), (1.33, 2.1), (1.52, 1.7), (1.7, 2.45), (1.95, 1.55), (2.15, 2.65), (2.35, 2.2),
    (2.65, 1.65), (1.22, 1.4), (1.58, 1.5), (1.88, 2.2), (2.5, 2.0),
]

W, H = 618, 1105
fig = plt.figure(figsize=(W / 100, H / 100), dpi=100)
ax_a = fig.add_axes([117 / W, 1 - 450 / H, 483 / W, 434 / H])
ax_b = fig.add_axes([117 / W, 1 - 1018.5 / H, 483 / W, 434 / H])


def style(ax):
    ax.set_xscale('log')
    ax.set_yscale('log')
    ax.set_xlim(0.001, 100)
    ax.set_ylim(0.05, 1000)
    ax.xaxis.set_major_locator(FixedLocator(x_ticks))
    ax.xaxis.set_major_formatter(FixedFormatter(x_tick_labels))
    ax.xaxis.set_minor_locator(LogLocator(base=10, subs=[2, 3, 4, 5, 6, 7, 8, 9], numticks=20))
    ax.xaxis.set_minor_formatter(NullFormatter())
    ax.yaxis.set_major_locator(FixedLocator(y_ticks))
    ax.yaxis.set_major_formatter(FixedFormatter(y_tick_labels))
    ax.yaxis.set_minor_locator(NullLocator())
    ax.tick_params(which='both', direction='in', top=True, right=True, labelsize=14.5, colors='black')
    ax.tick_params(which='major', length=10.5, width=1.4)
    ax.tick_params(which='minor', length=6, width=1.1)
    ax.tick_params(axis='x', which='major', pad=12)
    ax.tick_params(axis='y', which='major', pad=7)
    ax.grid(True, which='major', color='#c4c4c4', linestyle=(0, (1.2, 2.0)), linewidth=0.9)
    ax.set_axisbelow(True)
    for s in ax.spines.values():
        s.set_linewidth(1.5)
    ax.set_xlabel('Electric field |E| [mV/m]', fontsize=15, va='center')
    ax.xaxis.set_label_coords(0.5, -63 / 434)
    ax.set_ylabel('Electron temperature [keV]', fontsize=15, va='center')
    ax.yaxis.set_label_coords(-87 / 483, 0.5)
    ax.text(0.153, 393, 'Tail-Lobe Reconnection', color=CYAN, fontsize=18, ha='left', va='center')
    ax.text(0.153, 222, '(with open field lines)', color=CYAN, fontsize=18, ha='left', va='center')
    ax.text(0.00173, 0.198, 'Plasma-Sheet Reconnection', color=YELLOW, fontsize=18, ha='left', va='center')
    ax.text(0.00173, 0.112, '(with closed field lines)', color=YELLOW, fontsize=18, ha='left', va='center')


def draw(ax, pts, color):
    xs = [p[0] for p in pts]
    ys = [p[1] for p in pts]
    ax.plot(xs, ys, 'o', color=color, ms=3.7, mew=0, clip_on=True)


style(ax_a)
draw(ax_a, sheet_a, YELLOW)
draw(ax_a, tail_a, CYAN)

style(ax_b)
draw(ax_b, tail_b, CYAN)
draw(ax_b, sheet_b, YELLOW)

fig.text(16 / W, 1 - 53 / H, 'a', fontsize=24, fontweight='bold', ha='left', va='baseline')
fig.text(16 / W, 1 - 617 / H, 'b', fontsize=24, fontweight='bold', ha='left', va='baseline')

fig.savefig('out.png', dpi=100)
